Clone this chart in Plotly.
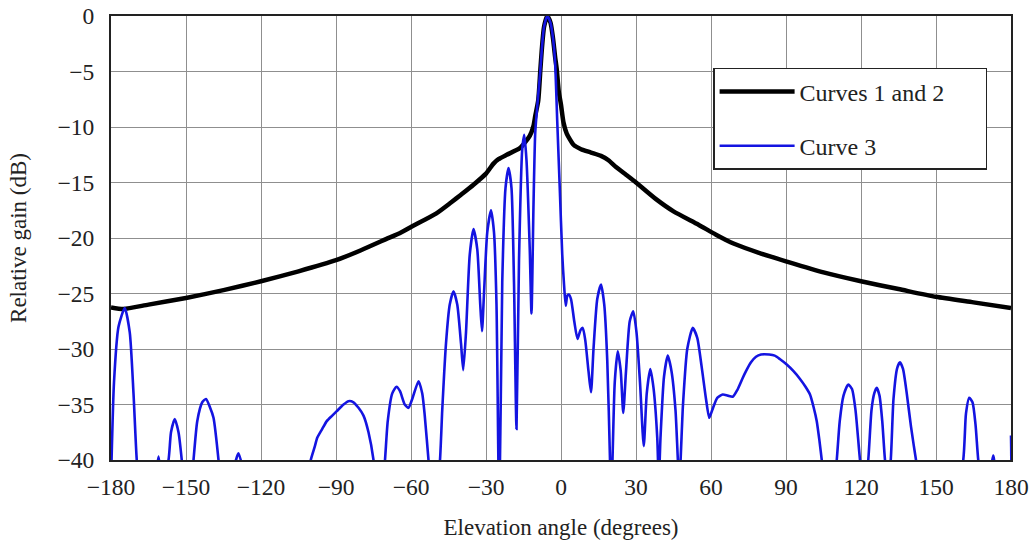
import plotly.graph_objects as go

# ---- data ----
x_ticks = [-180, -150, -120, -90, -60, -30, 0, 30, 60, 90, 120, 150, 180]
x_tick_labels = ["\u2212180", "\u2212150", "\u2212120", "\u221290", "\u221260", "\u221230", "0",
                 "30", "60", "90", "120", "150", "180"]
y_ticks = [0, -5, -10, -15, -20, -25, -30, -35, -40]
y_tick_labels = ["0", "\u22125", "\u221210", "\u221215", "\u221220", "\u221225", "\u221230", "\u221235", "\u221240"]

curve12_angle = [-180, -175, -165, -150, -135, -120, -105, -90, -80, -70, -64, -60, -50, -44,
                 -40, -35, -30, -27, -25, -21.7, -16.4, -12.5, -11, -10.3, -9.1, -8.3, -7.7,
                 -6.8, -5.5, -4.2, -3.2, -2.4, -1.7, -0.9, 0, 1, 2.3, 5, 8, 12, 16, 19, 22, 26,
                 30, 38, 45, 55, 62, 69, 80, 90, 105, 120, 135, 150, 165, 180]
curve12_gain = [-26.25, -26.4, -26.0, -25.4, -24.7, -23.9, -23.0, -22.0, -21.1, -20.1, -19.5,
                -19.0, -17.8, -16.8, -16.1, -15.2, -14.2, -13.3, -12.9, -12.5, -11.9, -10.8,
                -9.9, -9.0, -7.6, -5.0, -3.1, -1.0, 0.0, -0.6, -2.0, -3.6, -4.8, -6.8, -8.0,
                -9.6, -10.6, -11.6, -12.0, -12.3, -12.6, -13.0, -13.6, -14.3, -15.0, -16.5,
                -17.6, -18.8, -19.7, -20.5, -21.4, -22.1, -23.1, -23.9, -24.6, -25.3, -25.8,
                -26.3]

curve3_angle = [-180, -178.8, -177, -174.5, -172.5, -171, -169.7, -166, -162.5, -161, -159.5,
                -157, -156, -154.5, -153, -151.7, -149.5, -147, -145.5, -143.5, -142, -140.5,
                -139, -137, -134, -131, -129, -127, -115, -100.1, -98.5, -97.5, -95.5, -93.7,
                -91.5, -89.7, -87, -85, -83, -81, -79, -77, -75, -72.7, -70.4, -69.3, -67.5,
                -65.8, -64.4, -62.5, -61, -59.5, -57, -55.5, -54.5, -53, -50.7, -48.4, -47.5,
                -46, -44.5, -43, -41.5, -40, -39.1, -38, -36.5, -35, -33.5, -32.3, -31.6,
                -30.8, -29.5, -28, -26.8, -25.8, -24.7, -23.5, -22.2, -21, -19.8, -18.8, -17.8,
                -16.8, -15.5, -14.7, -13.8, -12.5, -11.8, -11, -10.3, -9.3, -8.3, -7.7, -6.8,
                -5.5, -4.2, -3.2, -2.4, -1.5, -0.5, 0.5, 1.3, 1.9, 2.5, 3.1, 4, 5.3, 6.6, 7.8,
                8.7, 9.7, 11, 12, 13, 14.5, 16, 17.3, 18.5, 19.6, 20, 20.6, 21.5, 22.7, 23.9,
                24.9, 26, 27.5, 28.9, 30.2, 31.6, 33.1, 34.3, 35.7, 37, 38.5, 39.1, 39.8, 41.2,
                42.7, 44.2, 45.8, 47.3, 48.8, 50.5, 52.7, 54.5, 56.2, 58, 59.3, 60.5, 62.5,
                64.7, 66.7, 68.7, 70.5, 72.5, 74, 76, 78, 80, 83.3, 85.5, 87.5, 90.3, 93, 95.6,
                97.8, 99.6, 101, 102.3, 103.4, 104.3, 107.3, 110.3, 111.5, 113, 114.9, 116.4,
                117.8, 119.6, 121.2, 122.9, 124.2, 125.3, 126.3, 127.4, 128.5, 129.6, 130.8,
                131.9, 133, 134.5, 135.6, 136.8, 138.3, 140, 142, 151, 160.9, 162, 163.3, 164.6,
                165.8, 166.9, 169.7, 172.9, 175.5, 179, 180]
curve3_gain = [-42, -33, -28, -26.3, -28.5, -34, -40, -50, -42, -39.7, -42,
               -40, -37.5, -36.3, -37.5, -40, -46, -40, -36.5, -34.8, -34.5, -35.2,
               -36.2, -40, -48, -41, -39.4, -41, -55, -40, -38.8, -38, -37.2, -36.5,
               -36, -35.6, -35, -34.7, -34.8, -35.3, -36, -37.5, -40, -46, -40, -36.5, -34,
               -33.4, -33.8, -35, -35.3, -34.5, -32.9, -34, -36, -40, -46, -40, -35.5,
               -29.5, -26, -24.8, -26, -29.5, -31.9, -28.5, -21.5, -19.2, -21, -26, -28.4,
               -25, -19.5, -17.5, -19.5, -26, -45, -24, -15.5, -13.7, -15.5, -24, -37.2,
               -22, -12, -10.7, -13, -21, -26.8, -17, -10.5, -7.6, -5.0, -3.1, -1.0,
               0.0, -0.6, -2.0, -4.0, -9.5, -15.5, -21.5, -24.5, -26.1, -25.2, -25.1, -25.5, -27.5, -29.1, -28.3,
               -28.1, -29.2, -32, -33.9, -30, -25.5, -24.2, -26, -31, -40, -45, -40, -33, -30.2, -32,
               -35.75, -32, -27.5, -26.6, -28.5, -33, -38.75, -34, -31.8, -33.5, -38, -42, -38, -32.5,
               -30.6, -32, -35.5, -42, -35, -30, -28.1, -29, -31.5, -34.5, -36.2, -35.5, -34.4,
               -34.1, -34.2, -34.3, -33.7, -32.7, -32, -31.2, -30.7, -30.5, -30.5, -30.6, -30.9, -31.4, -32, -32.7,
               -33.4, -34.1, -35.2, -36.5, -38.3, -40, -47, -40, -36.5, -34.2, -33.2, -33.6,
               -35.5, -40, -43, -40, -35.5, -34, -33.5, -34.2, -36.5, -40, -42,
               -40, -34.5, -31.7, -31.2, -31.8, -34, -37, -40, -52, -40, -35.8, -34.4, -34.8,
               -36.8, -40, -45, -39.6, -44, -44, -37.8]

FONT = "Liberation Serif, Times New Roman, serif"
NB = "\u00a0"

fig = go.Figure()
fig.add_trace(go.Scatter(
    x=curve12_angle, y=curve12_gain, mode="lines", name="Curves 1 and 2" + NB * 6,
    legendgroup="a", line=dict(color="black", width=4.5, shape="spline", smoothing=0.6)))
fig.add_trace(go.Scatter(
    x=curve3_angle, y=curve3_gain, mode="lines", name="Curve 3",
    legendgroup="b", line=dict(color="rgb(20,20,225)", width=2.6, shape="spline", smoothing=0.6)))

axis_common = dict(showgrid=True, gridcolor="#8f8f8f", gridwidth=1, showline=True,
                   linecolor="#222", linewidth=2, mirror=True, ticks="", zeroline=False,
                   automargin=False,
                   tickfont=dict(family=FONT, size=23.5, color="#222"),
                   title_font=dict(family=FONT, size=23, color="#222"))

fig.update_xaxes(range=[-180, 180], tickvals=x_ticks, ticktext=x_tick_labels,
                 title_text="Elevation angle (degrees)", title_standoff=20,
                 ticklabelstandoff=5, **axis_common)
fig.update_yaxes(range=[-40, 0], tickvals=y_ticks, ticktext=y_tick_labels,
                 title_text="Relative gain (dB)", title_standoff=24,
                 ticklabelstandoff=10, **axis_common)

fig.update_layout(
    width=1033, height=548,
    margin=dict(l=111, r=22, t=16, b=88),
    plot_bgcolor="white", paper_bgcolor="white",
    font=dict(family=FONT, color="#222"),
    legend=dict(x=0.669, y=0.883, xanchor="left", yanchor="top",
                bgcolor="white", bordercolor="#222", borderwidth=1.5,
                font=dict(family=FONT, size=24, color="#222"),
                tracegroupgap=20, itemwidth=75),
)

fig.write_html("out.html", config={"displayModeBar": False},
               post_script="document.body.style.margin='0';document.body.style.overflow='hidden';")
